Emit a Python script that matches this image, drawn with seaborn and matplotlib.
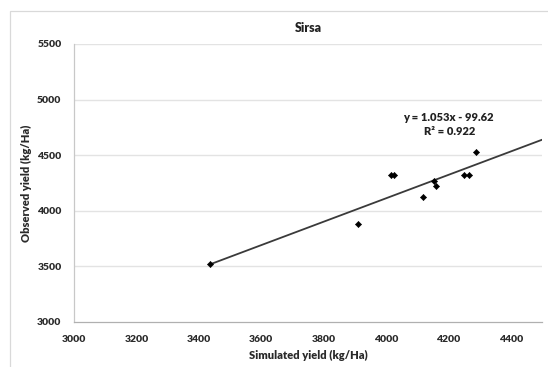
import matplotlib
matplotlib.use("Agg")
import matplotlib.pyplot as plt
import seaborn as sns
import numpy as np
import pandas as pd
from matplotlib.patches import Rectangle

# ---- data ----
simulated = [3436, 3910, 4015, 4025, 4117, 4154, 4159, 4250, 4265, 4288]
observed = [3524, 3880, 4320, 4325, 4128, 4268, 4219, 4325, 4325, 4529]
slope = 1.053
intercept = -99.62
r2 = 0.922
x_ticks = [3000, 3200, 3400, 3600, 3800, 4000, 4200, 4400]
y_ticks = [3000, 3500, 4000, 4500, 5000, 5500]
title = "Sirsa"
x_label = "Simulated yield (kg/Ha)"
y_label = "Observed yield (kg/Ha)"

sns.set_theme(style="white")
plt.rcParams['font.family'] = ['Lato', 'DejaVu Sans']

df = pd.DataFrame({"sim": simulated, "obs": observed})
x_end = 4500
trend_x = [min(simulated), x_end]
trend = pd.DataFrame({"x": trend_x, "y": [slope * v + intercept for v in trend_x]})

fig = plt.figure(figsize=(5.48, 3.67), dpi=100)
fig.patch.set_facecolor("white")
# outer chart border
fig.patches.append(Rectangle((10 / 548, -0.1), 1.2, 1 - 11 / 367 + 0.1,
                             transform=fig.transFigure, fill=False,
                             edgecolor="#d9d9d9", linewidth=0.9))

ax = fig.add_axes([74 / 548, 1 - 322 / 367, (542 - 74) / 548, (322 - 44) / 367])

for yv in y_ticks[1:]:
    ax.axhline(yv, color="#e3e3e3", linewidth=1.0, zorder=0)

sns.lineplot(data=trend, x="x", y="y", ax=ax, color="#3a3a3a", linewidth=1.3, zorder=2)
sns.scatterplot(data=df, x="sim", y="obs", ax=ax, marker="D", s=10, color="black",
                edgecolor="black", linewidth=0.4, zorder=3)

ax.set_xlim(3000, 4500)
ax.set_ylim(3000, 5500)
ax.set_xticks(x_ticks)
ax.set_yticks(y_ticks)
ax.set_xticklabels([str(v) for v in x_ticks], fontsize=7.5, fontweight="heavy", color="#2a2a2a")
ax.set_yticklabels([str(v) for v in y_ticks], fontsize=7.5, fontweight="heavy", color="#2a2a2a")
ax.tick_params(axis="y", direction="out", length=4, width=0.8, color="#bfbfbf", pad=5)
ax.tick_params(axis="x", direction="in", length=3, width=0.8, color="#bfbfbf", pad=9)

for s in ["top", "right"]:
    ax.spines[s].set_visible(False)
ax.spines["left"].set_color("#c8c8c8")
ax.spines["bottom"].set_color("#b0b0b0")
ax.spines["left"].set_linewidth(0.9)
ax.spines["bottom"].set_linewidth(0.9)

ax.set_xlabel(x_label, fontsize=8, fontweight="heavy", color="#2a2a2a", labelpad=5)
ax.set_ylabel(y_label, fontsize=8, fontweight="heavy", color="#2a2a2a", labelpad=4)
ax.set_title(title, fontsize=9, fontweight="heavy", color="#222222", pad=9)

ax.text(4199, 4843, f"y = {slope:.3f}x - {abs(intercept):.2f}", fontsize=8,
        fontweight="heavy", color="#222222", ha="center", va="center")
ax.text(4205, 4709, f"R² = {r2:.3f}", fontsize=8,
        fontweight="heavy", color="#222222", ha="center", va="center")

fig.savefig("out.png", dpi=100, facecolor="white")
